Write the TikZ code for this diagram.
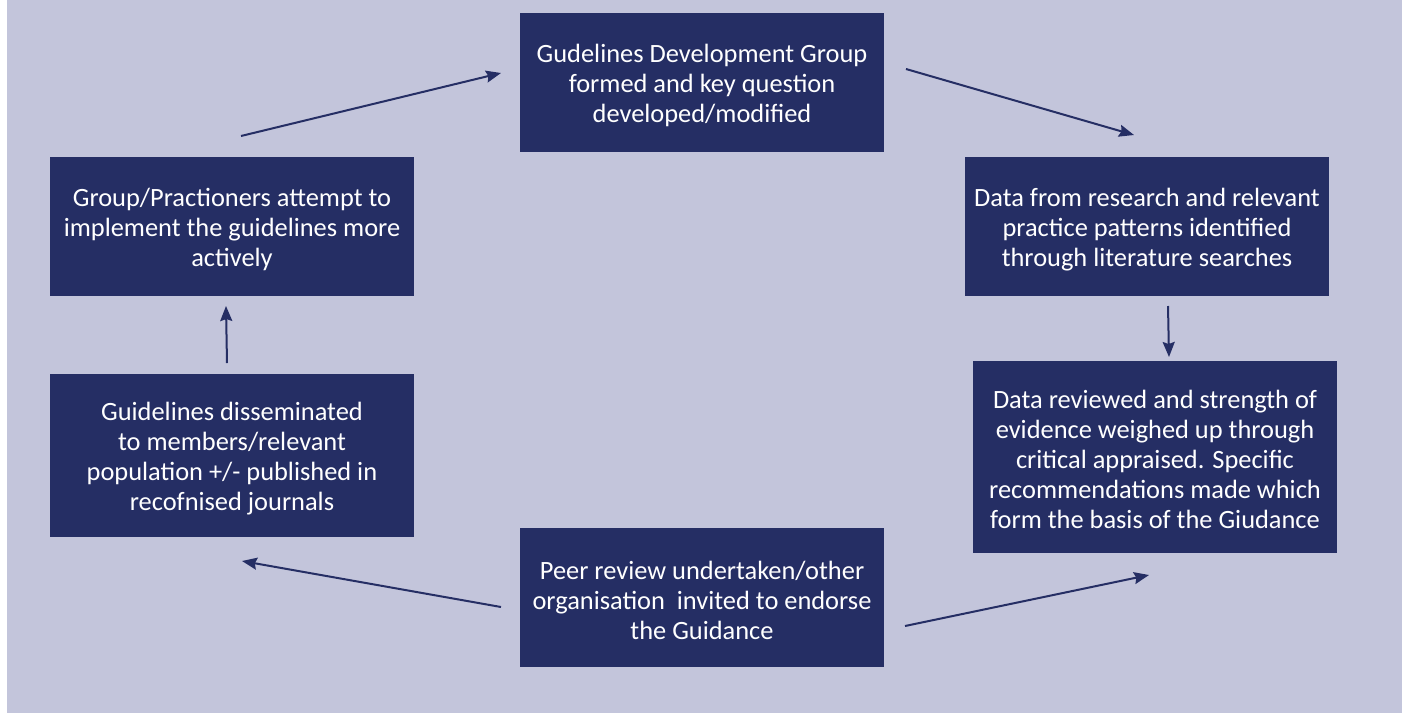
\documentclass[tikz,border=0pt]{standalone}
\usepackage{fontspec}
\setmainfont{Carlito}
\usetikzlibrary{arrows.meta}
\definecolor{bgc}{HTML}{C3C5DB}
\definecolor{boxc}{HTML}{252E64}
\newcommand\tpad{\rule{0pt}{24pt}}
\tikzset{
  stepbox/.style={fill=boxc, text=white, align=center, inner sep=0pt,
    minimum width=364pt, font=\fontsize{26.4}{30}\selectfont},
  flow/.style={draw=boxc, line width=2pt, -{Stealth[length=15pt,width=12pt,inset=2pt]}}
}
\begin{document}
\begin{tikzpicture}[x=1pt,y=-1pt]
\useasboundingbox (0,0) rectangle (1402,713);
\fill[white] (0,0) rectangle (1402,713);
\fill[bgc] (7,0) rectangle (1402,713);

\node[stepbox, minimum height=139pt] (top) at (702,82.5) {\tpad Gudelines Development Group\\formed and key question\\developed/modified};
\node[stepbox, minimum height=139pt] (r1) at (1147,226.5) {\tpad Data from research and relevant\\practice patterns identified\\through literature searches};
\node[stepbox, minimum height=192pt] (r2) at (1155,457) {\tpad Data reviewed and strength of\\evidence weighed up through\\critical appraised. Specific\\recommendations made which\\form the basis of the Giudance};
\node[stepbox, minimum height=139pt] (bot) at (702,597.5) {\tpad Peer review undertaken/other\\organisation\ \ invited to endorse\\the Guidance};
\node[stepbox, minimum height=163pt] (l2) at (232,455.5) {\tpad Guidelines disseminated\\to members/relevant\\population +/- published in\\recofnised journals};
\node[stepbox, minimum height=139pt] (l1) at (232,226.5) {\tpad Group/Practioners attempt to\\implement the guidelines more\\actively};

\coordinate (a1s) at (241,136); \coordinate (a1e) at (501,73);
\coordinate (a2s) at (906,69);  \coordinate (a2e) at (1134,135);
\coordinate (a3s) at (1168,306); \coordinate (a3e) at (1169,357);
\coordinate (a4s) at (905,626); \coordinate (a4e) at (1149,575);
\coordinate (a5s) at (501,607); \coordinate (a5e) at (242,561);
\coordinate (a6s) at (227,363); \coordinate (a6e) at (226,306);

\draw[flow] (a1s) -- (a1e);
\draw[flow] (a2s) -- (a2e);
\draw[flow] (a3s) -- (a3e);
\draw[flow] (a4s) -- (a4e);
\draw[flow] (a5s) -- (a5e);
\draw[flow] (a6s) -- (a6e);
\end{tikzpicture}
\end{document}
